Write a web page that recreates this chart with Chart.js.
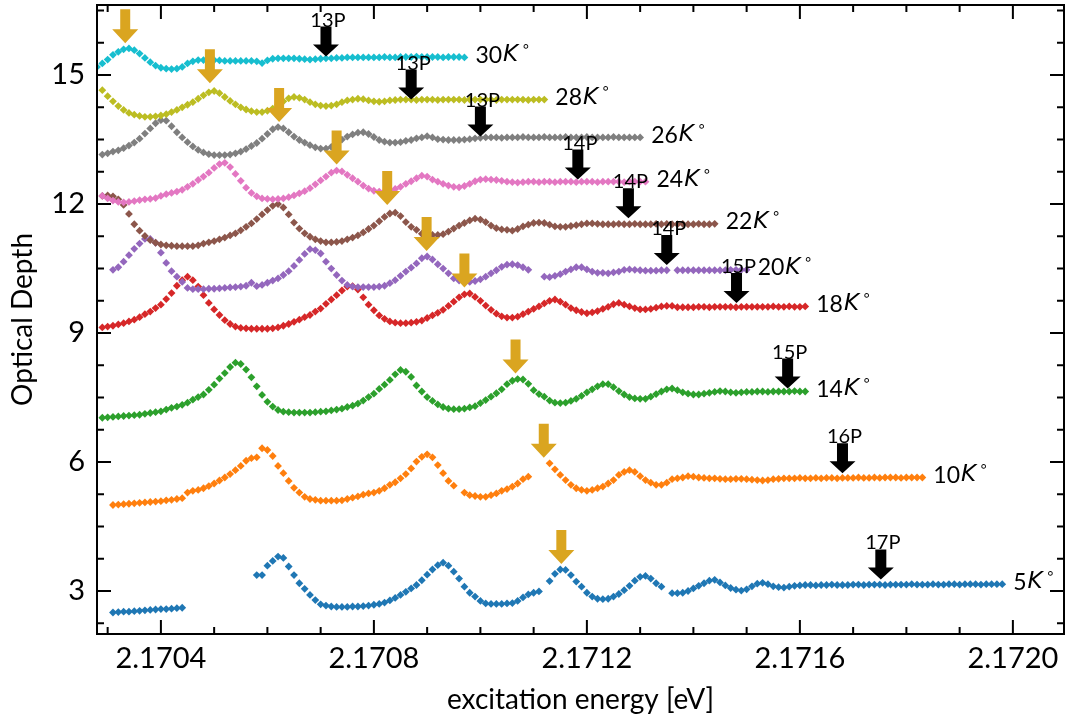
<!DOCTYPE html>
<html>
<head>
<meta charset="utf-8">
<script src="https://cdn.jsdelivr.net/npm/chart.js@4.4.1/dist/chart.umd.min.js"></script>
<style>
  html, body { margin: 0; padding: 0; background: #fff; }
  canvas { display: block; }
</style>
</head>
<body>
<canvas id="chart" width="1069" height="719"></canvas>
<script>
// energy grid [eV], one value per scan step
const energy = [
  2.17028, 2.17029,
  2.17030, 2.17031, 2.17032, 2.17033, 2.17034, 2.17035, 2.17036, 2.17037, 2.17038, 2.17039,
  2.17040, 2.17041, 2.17042, 2.17043, 2.17044, 2.17045, 2.17046, 2.17047, 2.17048, 2.17049,
  2.17050, 2.17051, 2.17052, 2.17053, 2.17054, 2.17055, 2.17056, 2.17057, 2.17058, 2.17059,
  2.17060, 2.17061, 2.17062, 2.17063, 2.17064, 2.17065, 2.17066, 2.17067, 2.17068, 2.17069,
  2.17070, 2.17071, 2.17072, 2.17073, 2.17074, 2.17075, 2.17076, 2.17077, 2.17078, 2.17079,
  2.17080, 2.17081, 2.17082, 2.17083, 2.17084, 2.17085, 2.17086, 2.17087, 2.17088, 2.17089,
  2.17090, 2.17091, 2.17092, 2.17093, 2.17094, 2.17095, 2.17096, 2.17097, 2.17098, 2.17099,
  2.17100, 2.17101, 2.17102, 2.17103, 2.17104, 2.17105, 2.17106, 2.17107, 2.17108, 2.17109,
  2.17110, 2.17111, 2.17112, 2.17113, 2.17114, 2.17115, 2.17116, 2.17117, 2.17118, 2.17119,
  2.17120, 2.17121, 2.17122, 2.17123, 2.17124, 2.17125, 2.17126, 2.17127, 2.17128, 2.17129,
  2.17130, 2.17131, 2.17132, 2.17133, 2.17134, 2.17135, 2.17136, 2.17137, 2.17138, 2.17139,
  2.17140, 2.17141, 2.17142, 2.17143, 2.17144, 2.17145, 2.17146, 2.17147, 2.17148, 2.17149,
  2.17150, 2.17151, 2.17152, 2.17153, 2.17154, 2.17155, 2.17156, 2.17157, 2.17158, 2.17159,
  2.17160, 2.17161, 2.17162, 2.17163, 2.17164, 2.17165, 2.17166, 2.17167, 2.17168, 2.17169,
  2.17170, 2.17171, 2.17172, 2.17173, 2.17174, 2.17175, 2.17176, 2.17177, 2.17178, 2.17179,
  2.17180, 2.17181, 2.17182, 2.17183, 2.17184, 2.17185, 2.17186, 2.17187, 2.17188, 2.17189,
  2.17190, 2.17191, 2.17192, 2.17193, 2.17194, 2.17195, 2.17196, 2.17197, 2.17198, 2.17199,
  2.17200
];

// optical depth per temperature, aligned with energy[] (null = no point)
const od5K = [
  null, null, null,
  2.50, 2.51, 2.52, 2.52, 2.53, 2.54, 2.55, 2.56, 2.57, 2.58, 2.58, 2.59, 2.60, 2.61,
  null, null, null, null, null, null, null, null, null, null, null, null, null,
  3.37, 3.37, 3.59, 3.70, 3.80, 3.77, 3.57, 3.37, 3.18, 3.05, 2.91, 2.79, 2.69, 2.66,
  2.64, 2.63, 2.63, 2.63, 2.64, 2.64, 2.65, 2.66, 2.68,
  2.70, 2.73, 2.78, 2.84, 2.91, 2.98, 3.06, 3.14, 3.25, 3.38,
  3.50, 3.60, 3.66, 3.59, 3.45, 3.29, 3.10, 2.96, 2.87, 2.77,
  2.71, 2.70, 2.70, 2.70, 2.71, 2.72, 2.77, 2.85, 2.92, 2.96,
  2.99, null,
  3.23, 3.40, 3.50, 3.49, 3.37, 3.22, 3.10, 2.96,
  2.87, 2.82, 2.81, 2.82, 2.87, 2.93, 3.02, 3.12, 3.24, 3.33,
  3.35, 3.29, 3.18, 3.10, null,
  2.95, 2.95, 2.96, 3.00, 3.06,
  3.12, 3.18, 3.24, 3.26, 3.20, 3.13, 3.07, 3.03, 3.01, 3.04,
  3.11, 3.17, 3.19, 3.16, 3.11, 3.09, 3.08, 3.10, 3.12, 3.13,
  3.14, 3.14, 3.13, 3.14, 3.14, 3.15, 3.14, 3.14, 3.14, 3.15,
  3.15, 3.14, 3.15, 3.15, 3.15, 3.14, 3.15, 3.15, 3.15, 3.15,
  3.16, 3.15, 3.15, 3.15, 3.16, 3.15, 3.15, 3.16, 3.16, 3.15,
  3.16, 3.16, 3.16, 3.15, 3.16, 3.16, 3.16, 3.16
];
const od10K = [
  null, null, null,
  5.00, 5.01, 5.02, 5.03, 5.04, 5.05, 5.06, 5.07, 5.08, 5.09, 5.11, 5.12, 5.14, 5.16,
  5.29, 5.33, 5.35, 5.39, 5.44, 5.50, 5.57, 5.64, 5.72, 5.81,
  5.91, 6.03, 6.09, 6.11, 6.32, 6.28, 6.14, 5.91, 5.74, 5.56,
  5.40, 5.29, 5.19, 5.14, 5.12, 5.10, 5.10, 5.10, 5.10, 5.11,
  5.14, 5.17, 5.20, 5.24, 5.27, 5.29, 5.33, 5.39, 5.47, 5.53,
  5.62, 5.72, 5.85, 6.01, 6.12, 6.18, 6.11, 5.93, 5.74, 5.56,
  5.45, null, 5.29, 5.23, 5.21, 5.19, 5.19, 5.23, 5.27, 5.33,
  5.37, 5.43, 5.50, 5.60, 5.66, null, null, null, 5.97, 5.83,
  5.70, 5.58, 5.47, 5.39, 5.35, 5.33, 5.35, 5.39, 5.43, 5.50,
  5.58, 5.70, 5.77, 5.81, 5.77, 5.67, 5.58, 5.52, 5.47, 5.47,
  5.52, 5.60, 5.62, 5.64, 5.67, 5.66, 5.64,
  5.63, 5.62, 5.62, 5.61, 5.60, 5.60, 5.61, 5.61, 5.60,
  5.59, 5.58, 5.57, 5.58, 5.60, 5.61, 5.62, 5.62, 5.62, 5.63,
  5.62, 5.62, 5.63, 5.62, 5.63, 5.63, 5.62, 5.63, 5.63, 5.63,
  5.64, 5.63, 5.63, 5.64, 5.63, 5.64, 5.64, 5.64, 5.63, 5.64,
  5.64, 5.64, 5.64
];
const od14K = [
  null,
  7.03, 7.04, 7.05, 7.06, 7.07, 7.08, 7.09, 7.10, 7.12, 7.14, 7.16,
  7.18, 7.22, 7.26, 7.29, 7.33, 7.38, 7.45, 7.51, 7.57, 7.68,
  7.80, 7.94, 8.07, 8.21, 8.31, 8.28, 8.15, 7.97, 7.76, 7.56,
  7.40, 7.29, 7.21, 7.17, 7.16, 7.15, 7.15, 7.15, 7.15, 7.16,
  7.17, 7.18, 7.20, 7.22, 7.24, 7.28, 7.31, 7.36, 7.43, 7.51,
  7.59, 7.70, 7.80, 7.91, 8.04, 8.14, 8.10, 7.98, 7.78, 7.64,
  7.51, 7.42, 7.34, 7.28, 7.24, 7.23, 7.23, 7.24, 7.27, 7.30,
  7.37, 7.44, 7.52, 7.60, 7.69, 7.81, 7.89, 7.93, 7.92, 7.82,
  7.67, 7.58, 7.52, 7.43, 7.38, 7.37, 7.38, 7.42, 7.47, 7.54,
  7.62, 7.69, 7.76, 7.81, 7.81, 7.74, 7.65, 7.57, 7.51, 7.48,
  7.47, 7.47, 7.52, 7.58, 7.64, 7.69, 7.71, 7.67, 7.62, 7.59,
  7.57, 7.57, 7.59, 7.61, 7.63, 7.65, 7.64, 7.62, 7.61, 7.62,
  7.63, 7.63, 7.64, 7.64, 7.63, 7.64, 7.64, 7.64, 7.64, 7.65,
  7.64, 7.64
];
const od18K = [
  null,
  9.13, 9.15, 9.17, 9.20, 9.23, 9.27, 9.31, 9.37, 9.44, 9.50, 9.58,
  9.66, 9.79, 9.93, 10.10, 10.23, 10.31, 10.23, 10.08, 9.88, 9.70,
  9.55, 9.42, 9.30, 9.21, 9.15, 9.12, 9.11, 9.10, 9.10, 9.10,
  9.10, 9.11, 9.13, 9.17, 9.21, 9.26, 9.31, 9.37, 9.42, 9.50,
  9.57, 9.68, 9.78, 9.88, 9.99, 10.08, 10.09, 10.01, 9.83, 9.66,
  9.53, 9.41, 9.33, 9.27, 9.24, 9.23, 9.23, 9.24, 9.26, 9.29,
  9.35, 9.41, 9.47, 9.54, 9.63, 9.73, 9.83, 9.90, 9.92, 9.84,
  9.75, 9.64, 9.54, 9.45, 9.39, 9.36, 9.36, 9.38, 9.44, 9.50,
  9.56, 9.62, 9.69, 9.75, 9.78, 9.73, 9.66, 9.58, 9.53, 9.49,
  9.46, 9.48, 9.51, 9.56, 9.61, 9.67, 9.70, 9.66, 9.62, 9.58,
  9.55, 9.55, 9.56, 9.59, 9.62, 9.63, 9.63, 9.60, 9.60, 9.60,
  9.60, 9.61, 9.61, 9.60, 9.61, 9.61, 9.61, 9.61, 9.60, 9.61,
  9.61, 9.61, 9.61, 9.61, 9.61, 9.62, 9.61, 9.61, 9.62, 9.61,
  9.61, 9.62
];
const od20K = [
  null, null, null,
  10.47, 10.53, 10.66, 10.81, 10.96, 11.08, 11.19, 11.19, 11.10,
  10.87, 10.63, 10.44, 10.31, 10.19, 10.05, 10.02, 10.02, 10.02, 10.03,
  10.03, 10.04, 10.05, 10.06, 10.07, 10.08, 10.10, 10.17, 10.09, 10.12,
  10.17, 10.22, 10.27, 10.35, 10.44, 10.56, 10.70, 10.84, 10.95, 10.93,
  10.85, 10.66, 10.50, 10.35, 10.22, 10.12, 10.08, 10.07, 10.07, 10.07,
  10.07, 10.08, 10.10, 10.16, 10.23, 10.33, 10.43, 10.52, 10.62, 10.74,
  10.78, 10.71, 10.60, 10.50, 10.39, 10.27, 10.22, 10.17, 10.19, 10.21,
  10.25, 10.31, 10.39, 10.46, 10.54, 10.59, 10.60, 10.58, 10.53, 10.47,
  null, null, 10.31, 10.30, 10.33, 10.37, 10.43, 10.48, 10.53, 10.53,
  10.48, 10.43, 10.40, 10.40, 10.39, 10.41, 10.43, 10.47, 10.48, 10.47,
  10.46, 10.45, 10.45, 10.45, 10.46, 10.46, null, 10.46, 10.46, 10.46,
  10.46, 10.46, 10.46, 10.46, 10.46, 10.46, 10.46, 10.47, 10.47, 10.47, 10.47
];
const od22K = [
  null,
  12.19, 12.20, 12.18, 12.11, 11.98, 11.77, 11.53, 11.38, 11.26, 11.16, 11.10,
  11.06, 11.04, 11.03, 11.02, 11.02, 11.02, 11.02, 11.04, 11.08, 11.11,
  11.14, 11.18, 11.22, 11.27, 11.32, 11.39, 11.47, 11.55, 11.65, 11.76,
  11.86, 11.96, 12.00, 11.92, 11.76, 11.57, 11.43, 11.32, 11.24, 11.18,
  11.14, 11.11, 11.11, 11.12, 11.14, 11.18, 11.22, 11.27, 11.34, 11.42,
  11.50, 11.60, 11.70, 11.78, 11.80, 11.72, 11.58, 11.47, 11.40, 11.31,
  11.28, 11.28, 11.28, 11.30, 11.36, 11.43, 11.50, 11.56, 11.62, 11.66,
  11.64, 11.58, 11.50, 11.44, 11.41, 11.40, 11.38, 11.42, 11.48, 11.52,
  11.56, 11.57, 11.56, 11.52, 11.48, 11.47, 11.47, 11.49, 11.51, 11.53,
  11.55, 11.55, 11.54, 11.53, 11.53, 11.53, 11.54, 11.53, 11.53, 11.54,
  11.53, 11.53, 11.53, 11.54, 11.53, 11.54, 11.53, 11.53, 11.54, 11.53,
  11.53, 11.54, 11.53, 11.53, 11.54
];
const od24K = [
  null,
  12.19, 12.13, 12.08, 12.05, 12.04, 12.05, 12.07, 12.09, 12.11, 12.12, 12.14,
  12.19, 12.23, 12.26, 12.29, 12.33, 12.40, 12.47, 12.56, 12.64, 12.73,
  12.84, 12.93, 12.96, 12.86, 12.70, 12.54, 12.38, 12.26, 12.18, 12.13,
  12.12, 12.11, 12.12, 12.13, 12.16, 12.20, 12.25, 12.30, 12.37, 12.46,
  12.55, 12.64, 12.73, 12.78, 12.76, 12.68, 12.60, 12.52, 12.43, 12.36,
  12.31, 12.29, 12.29, 12.32, 12.35, 12.40, 12.47, 12.53, 12.60, 12.66,
  12.64, 12.57, 12.52, 12.47, 12.43, 12.40, 12.39, 12.42, 12.47, 12.53,
  12.57, 12.58, 12.57, 12.56, 12.54, 12.52, 12.51, 12.50, 12.51, 12.52,
  12.52, 12.51, 12.52, 12.52, 12.51, 12.52, 12.52, 12.52, 12.51, 12.52,
  12.52, 12.52, 12.51, 12.52, 12.52, 12.52, 12.52, 12.51, 12.52, 12.52,
  12.52, 12.52
];
const od26K = [
  null,
  13.15, 13.18, 13.22, 13.25, 13.30, 13.36, 13.43, 13.52, 13.64, 13.76, 13.88,
  13.95, 13.94, 13.81, 13.67, 13.55, 13.44, 13.34, 13.26, 13.20, 13.16,
  13.14, 13.14, 13.14, 13.15, 13.18, 13.22, 13.28, 13.35, 13.42, 13.52,
  13.63, 13.74, 13.79, 13.76, 13.67, 13.57, 13.49, 13.43, 13.37, 13.32,
  13.29, 13.29, 13.33, 13.41, 13.50, 13.57, 13.62, 13.66, 13.67, 13.63,
  13.56, 13.49, 13.45, 13.43, 13.43, 13.44, 13.47, 13.49, 13.53, 13.55,
  13.58, 13.55, 13.51, 13.50, 13.49, 13.49, 13.49, 13.50, 13.51, 13.53,
  13.54, 13.55, 13.55, 13.55, 13.54, 13.55, 13.55, 13.55, 13.56, 13.55,
  13.55, 13.55, 13.56, 13.55, 13.55, 13.55, 13.56, 13.55, 13.55, 13.55,
  13.56, 13.55, 13.55, 13.55, 13.55, 13.56, 13.55, 13.55, 13.55, 13.55, 13.55
];
const od28K = [
  null,
  14.65, 14.51, 14.39, 14.28, 14.19, 14.12, 14.08, 14.05, 14.03, 14.03, 14.04,
  14.06, 14.09, 14.14, 14.19, 14.25, 14.31, 14.37, 14.45, 14.53, 14.60,
  14.63, 14.58, 14.49, 14.40, 14.32, 14.25, 14.20, 14.16, 14.14, 14.14,
  14.17, 14.22, 14.31, 14.39, 14.46, 14.49, 14.47, 14.43, 14.37, 14.32,
  14.29, 14.28, 14.29, 14.32, 14.37, 14.41, 14.43, 14.45, 14.44, 14.41,
  14.39, 14.38, 14.39, 14.41, 14.42, 14.43, 14.43, 14.43, 14.42, 14.43,
  14.43, 14.43, 14.42, 14.43, 14.43, 14.43, 14.43, 14.42, 14.43, 14.43,
  14.43, 14.43, 14.43, 14.42, 14.43, 14.43, 14.43, 14.43, 14.43, 14.42,
  14.43, 14.43, 14.43
];
const od30K = [
  15.19, 15.27, 15.36, 15.47, 15.54, 15.60, 15.62, 15.58, 15.50, 15.40, 15.30, 15.22,
  15.17, 15.15, 15.14, 15.15, 15.19, 15.27, 15.32, 15.35, 15.35, 15.36,
  15.35, 15.34, 15.33, 15.33, 15.33, 15.33, 15.33, 15.33, 15.32, 15.28,
  15.34, 15.38, 15.39, 15.39, 15.39, 15.39, 15.38, 15.37, 15.36, 15.37,
  15.38, 15.39, 15.39, 15.40, 15.40, 15.41, 15.41, 15.41, 15.41, 15.41,
  15.41, 15.41, 15.42, 15.41, 15.41, 15.42, 15.42, 15.42, 15.43, 15.42,
  15.42, 15.42, 15.42, 15.41, 15.42, 15.42, 15.42, 15.41
];

const temps = ["5", "10", "14", "18", "20", "22", "24", "26", "28", "30"];
const seriesData = [od5K, od10K, od14K, od18K, od20K, od22K, od24K, od26K, od28K, od30K];
const colors = ["#1f77b4", "#ff7f0e", "#2ca02c", "#d62728", "#9467bd",
                "#8c564b", "#e377c2", "#7f7f7f", "#bcbd22", "#17becf"];

// peak markers (tip position), same order as temps
const goldArrowE = [2.171152, 2.171119, 2.171066, 2.17097, 2.170899, 2.170825, 2.17073, 2.170622, 2.170492, 2.170333];
const goldArrowOD = [3.63, 6.10, 8.06, 10.06, 10.91, 11.98, 12.92, 13.91, 14.81, 15.74];
const rydbergArrowE = [2.171752, 2.17168, 2.171577, 2.171481, 2.17135, 2.171278, 2.171183, 2.1710, 2.17087, 2.17071];
const rydbergArrowOD = [3.27, 5.74, 7.71, 9.70, 10.58, 11.67, 12.57, 13.57, 14.43, 15.43];
const rydbergLabels = ["17P", "16P", "15P", "15P", "14P", "14P", "14P", "13P", "13P", "13P"];

const X_MIN = 2.17028, X_MAX = 2.172096;
const Y_MIN = 2.0, Y_MAX = 16.63;
const X_STEP = 0.0001, Y_STEP = 0.75;
const GOLD = "#daa520";

// build datasets; last temperature first so it is drawn on top
let datasets = [];
for (let i = seriesData.length - 1; i >= 0; i--) {
  let pts = [];
  seriesData[i].forEach((v, j) => {
    if (v !== null) pts.push({ x: energy[j], y: v });
  });
  datasets.push({
    label: temps[i] + "K",
    data: pts,
    showLine: false,
    pointStyle: "rectRot",
    pointRadius: 3.9,
    pointBorderWidth: 0,
    pointBackgroundColor: colors[i],
    pointBorderColor: colors[i],
    clip: 0,
  });
}

function drawArrow(ctx, x, tipY, len, shaftW, headW, headL, color) {
  ctx.fillStyle = color;
  ctx.beginPath();
  ctx.moveTo(x - shaftW / 2, tipY - len);
  ctx.lineTo(x + shaftW / 2, tipY - len);
  ctx.lineTo(x + shaftW / 2, tipY - headL);
  ctx.lineTo(x + headW / 2, tipY - headL);
  ctx.lineTo(x, tipY);
  ctx.lineTo(x - headW / 2, tipY - headL);
  ctx.lineTo(x - shaftW / 2, tipY - headL);
  ctx.closePath();
  ctx.fill();
}

function drawTempLabel(ctx, x0, yc, num) {
  ctx.fillStyle = "#000";
  ctx.textAlign = "left";
  ctx.textBaseline = "middle";
  ctx.font = '23px Lato';
  ctx.fillText(num, x0, yc);
  let xx = x0 + ctx.measureText(num).width + 1;
  ctx.font = 'italic 23px "DejaVu Sans"';
  ctx.fillText("K", xx, yc);
  xx += ctx.measureText("K").width + 3;
  ctx.font = '15px "DejaVu Sans"';
  ctx.fillText("\u2218", xx, yc - 8);
}

// fixed plot box, like the original figure
function pinBox(s) {
  s.paddingTop = 0; s.paddingBottom = 0;
  s.paddingLeft = 0; s.paddingRight = 0;
}

const annotate = {
  id: "annotate",
  afterDatasetsDraw(chart) {
    const { ctx, scales: { x, y } } = chart;
    ctx.save();
    goldArrowE.forEach((e, i) => {
      drawArrow(ctx, x.getPixelForValue(e), y.getPixelForValue(goldArrowOD[i]), 34, 10, 26, 14, GOLD);
    });
    rydbergArrowE.forEach((e, i) => {
      const px = x.getPixelForValue(e);
      const py = y.getPixelForValue(rydbergArrowOD[i]);
      drawArrow(ctx, px, py, 30, 11, 26, 12, "#000");
      ctx.fillStyle = "#000";
      ctx.font = "20px Lato";
      ctx.textAlign = "center";
      ctx.textBaseline = "alphabetic";
      ctx.fillText(rydbergLabels[i], px + 2, py - 30);
    });
    seriesData.forEach((arr, i) => {
      let last = arr.length - 1;
      while (last > 0 && arr[last] === null) last--;
      const px = x.getPixelForValue(energy[last]) + 11;
      const py = y.getPixelForValue(arr[last]) - 2;
      drawTempLabel(ctx, px, py, temps[i]);
    });
    ctx.restore();
  },
  afterDraw(chart) {
    const { ctx, chartArea: a, scales: { x, y } } = chart;
    ctx.save();
    ctx.strokeStyle = "#000";
    ctx.lineWidth = 2;
    ctx.strokeRect(a.left, a.top, a.right - a.left, a.bottom - a.top);
    ctx.beginPath();
    x.ticks.forEach((t) => {
      const k = t.value / X_STEP;
      if (Math.abs(k - Math.round(k)) > 1e-6) return;
      const len = Math.round(k) % 4 === 0 ? 14 : 7;
      const px = x.getPixelForValue(t.value);
      ctx.moveTo(px, a.bottom); ctx.lineTo(px, a.bottom - len);
      ctx.moveTo(px, a.top); ctx.lineTo(px, a.top + len);
    });
    y.ticks.forEach((t) => {
      const k = t.value / Y_STEP;
      if (Math.abs(k - Math.round(k)) > 1e-6) return;
      const len = Math.round(k) % 4 === 0 ? 14 : 7;
      const py = y.getPixelForValue(t.value);
      ctx.moveTo(a.left, py); ctx.lineTo(a.left + len, py);
      ctx.moveTo(a.right, py); ctx.lineTo(a.right - len, py);
    });
    ctx.stroke();
    ctx.restore();
  },
};

new Chart(document.getElementById("chart"), {
  type: "scatter",
  data: { datasets: datasets },
  options: {
    responsive: false,
    animation: false,
    devicePixelRatio: 1,
    layout: { padding: { top: 5, right: 5, left: 0, bottom: 0 } },
    plugins: { legend: { display: false }, tooltip: { enabled: false } },
    scales: {
      x: {
        type: "linear",
        min: X_MIN,
        max: X_MAX,
        afterFit: (s) => { s.height = 85; pinBox(s); },
        grid: { display: false, drawTicks: false },
        border: { display: false },
        ticks: {
          stepSize: X_STEP,
          includeBounds: false,
          autoSkip: false,
          maxRotation: 0,
          padding: 7,
          color: "#000",
          font: { family: "Lato", size: 29 },
          callback: (v) => {
            const k = v / X_STEP;
            if (Math.abs(k - Math.round(k)) > 1e-6 || Math.round(k) % 4 !== 0) return "";
            return v.toFixed(4);
          },
        },
        title: {
          display: true,
          text: "excitation energy [eV]",
          color: "#000",
          font: { family: "Lato", size: 28 },
          padding: { top: 0, bottom: 2 },
        },
      },
      y: {
        min: Y_MIN,
        max: Y_MAX,
        afterFit: (s) => { s.width = 97; pinBox(s); },
        grid: { display: false, drawTicks: false },
        border: { display: false },
        ticks: {
          stepSize: Y_STEP,
          includeBounds: false,
          autoSkip: false,
          padding: 12,
          color: "#000",
          font: { family: "Lato", size: 29 },
          callback: (v) => {
            const k = v / Y_STEP;
            if (Math.abs(k - Math.round(k)) > 1e-6 || Math.round(k) % 4 !== 0) return "";
            return String(Math.round(v));
          },
        },
        title: {
          display: true,
          text: "Optical Depth",
          color: "#000",
          font: { family: "Lato", size: 28 },
          padding: { top: 6, bottom: 0 },
        },
      },
    },
  },
  plugins: [annotate],
});
</script>
</body>
</html>
